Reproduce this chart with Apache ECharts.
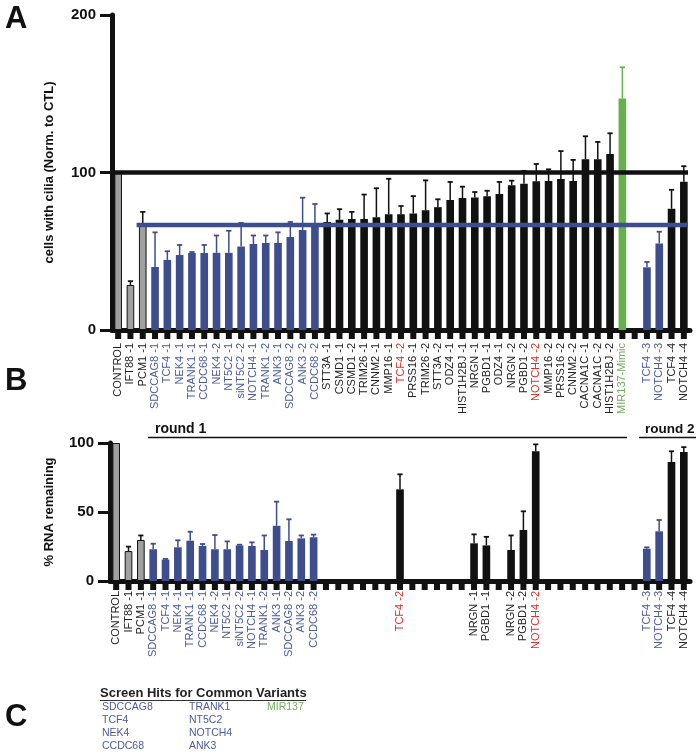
<!DOCTYPE html>
<html><head><meta charset="utf-8">
<script src="https://cdn.jsdelivr.net/npm/echarts@6/dist/echarts.min.js"></script>
<style>html,body{margin:0;padding:0;background:#fff}#c{width:699px;height:755px}</style>
</head><body><div id="c"></div>
<script>
// ---------- DATA ----------
const categories = ['CONTROL','IFT88 -1','PCM1 -1','SDCCAG8 -1','TCF4 -1','NEK4 -1','TRANK1 -1','CCDC68 -1','NEK4 -2','NT5C2 -1','siNT5C2 -2','NOTCH4 -1','TRANK1 -2','ANK3 -1','SDCCAG8 -2','ANK3 -2','CCDC68 -2','STT3A -1','CSMD1 -1','CSMD1 -2','TRIM26 -1','CNNM2 -1','MMP16 -1','TCF4 -2','PRSS16 -1','TRIM26 -2','STT3A -2','ODZ4 -1','HIST1H2BJ -1','NRGN -1','PGBD1 -1','ODZ4 -1','NRGN -2','PGBD1 -2','NOTCH4 -2','MMP16 -2','PRSS16 -2','CNNM2 -2','CACNA1C -1','CACNA1C -2','HIST1H2BJ -2','MIR137-Mimic','','TCF4 -3','NOTCH4 -3','TCF4 -4','NOTCH4 -4'];
// group: ctl = control, hit = screen hit, oth = other, red = other (highlighted label), mir = MIR137, none = empty
const groups = ['ctl','ctl','ctl','hit','hit','hit','hit','hit','hit','hit','hit','hit','hit','hit','hit','hit','hit','oth','oth','oth','oth','oth','oth','red','oth','oth','oth','oth','oth','oth','oth','oth','oth','oth','red','oth','oth','oth','oth','oth','oth','mir','none','hit','hit','oth','oth'];
const ciliaValues = [100,28.6,67,40,44.5,47.6,48.9,48.9,49,49,53,54.6,55.3,55.3,59,63.5,66,68.6,70,70.5,70.5,71.6,73.5,73.5,74,76,78,82.5,83.8,84.2,85,86.3,91.9,92.9,94.4,94.6,95.9,94.6,108.4,108.4,111.7,147,null,39.8,55,77,94.2];
const ciliaErrTop = [null,31,75,62,50,54,49.5,54,60,63,68,60,60,62,68.6,84,80,74,76.7,75,86,90,96,78.7,85,95,83,94,91,87.6,88.4,94,94.8,101,105.4,102,113.6,108,123,119.4,124.9,166.8,null,43.2,62.4,89,104];
const rnaValues = [100,21.7,29.7,23,15.5,24.4,29.2,25.4,23,23,25.8,25.4,22.5,40,29,30.9,31.7,null,null,null,null,null,null,66.4,null,null,null,null,null,27.3,25.8,null,22.5,37,94,null,null,null,null,null,null,null,null,23.4,36,86.2,93.5];
const rnaErrTop = [null,24.9,33,27,16,29.5,35.7,26.8,33.3,28.7,26.3,28,33,57.5,44.7,33,33.6,null,null,null,null,null,null,77.3,null,null,null,null,null,33.8,32,null,33,50.5,99,null,null,null,null,null,null,null,null,24.4,44.2,94,97];
const ciliaTicks = [0,100,200];
const rnaTicks = [0,50,100];
const controlLine = 100;
const hitMeanLine = 66.7;
const hitsCol1 = ['SDCCAG8','TCF4','NEK4','CCDC68'];
const hitsCol2 = ['TRANK1','NT5C2','NOTCH4','ANK3'];
const hitsCol3 = ['MIR137'];

// ---------- STYLE ----------
const FONT = '"Liberation Sans", Arial, Helvetica, sans-serif';
const barColor = {ctl:'#a0a0a0', hit:'#3d4d8d', oth:'#111111', red:'#111111', mir:'#66b04e', none:'#111'};
const errColor = {ctl:'#111111', hit:'#3d4d8d', oth:'#111111', red:'#111111', mir:'#66b04e', none:'#111'};
const labelColor = {ctl:'#222', hit:'#4b5a9c', oth:'#222', red:'#d6322c', mir:'#6fae5a', none:'#222'};

const rich = {};
Object.keys(labelColor).forEach(k => rich[k] = {color: labelColor[k], fontSize: 11, fontFamily: FONT});

function barData(vals){
  return vals.map((v,i) => v == null ? null : {
    value: v,
    itemStyle: {color: barColor[groups[i]], borderColor: groups[i]==='ctl' ? '#111' : barColor[groups[i]], borderWidth: groups[i]==='ctl' ? 1 : 0}
  });
}
function errData(vals, tops){
  const out = [];
  vals.forEach((v,i) => { if (v != null && tops[i] != null) out.push([i, v, tops[i]]); });
  return out;
}
function renderErr(params, api){
  const i = api.value(0), v = api.value(1), e = api.value(2);
  const p0 = api.coord([i, v]), p1 = api.coord([i, e]);
  const w = 2.6;
  const c = errColor[groups[i]];
  return {type:'group', children:[
    {type:'line', shape:{x1:p0[0], y1:p0[1], x2:p1[0], y2:p1[1]}, style:{stroke:c, lineWidth:1.5}},
    {type:'line', shape:{x1:p1[0]-w, y1:p1[1], x2:p1[0]+w, y2:p1[1]}, style:{stroke:c, lineWidth:1.8}}
  ]};
}
// comb ticks under the category axes, at each category centre
function renderComb(params, api){
  const p = api.coord([api.value(0), 0]);
  return {type:'rect', shape:{x:p[0]-3, y:p[1], width:6, height:9}, style:{fill:'#111'}};
}
const refLines = [[0, controlLine], [2, hitMeanLine]];
function renderRef(params, api){
  const startIdx = api.value(0), v = api.value(1);
  const cs = params.coordSys;
  const band = api.size([1,0])[0];
  const p = api.coord([startIdx, v]);
  const isBlue = params.dataIndex === 1;
  const x1 = isBlue ? p[0] - band/2 : cs.x;
  const x2 = cs.x + cs.width - 2;
  return {type:'line', shape:{x1:x1, y1:p[1], x2:x2, y2:p[1]},
    style:{stroke: isBlue ? '#3d4d8d' : '#111', lineWidth: 4.5}};
}

const xAxisBase = (labelFn, margin) => ({
  type:'category', data: categories,
  axisLine:{show:true, lineStyle:{color:'#111', width:5}},
  axisTick:{show:false},
  axisLabel:{interval:0, rotate:90, margin: margin, formatter: labelFn, rich: rich}
});
const yAxisBase = (max, interval, name, gap) => ({
  type:'value', min:0, max:max, interval:interval,
  name:name, nameLocation:'middle', nameGap:gap,
  nameTextStyle:{fontFamily:FONT, fontWeight:'bold', fontSize:13, color:'#111'},
  axisLine:{show:true, lineStyle:{color:'#111', width:5}},
  axisTick:{show:true, length:12, lineStyle:{color:'#111', width:3}},
  axisLabel:{fontFamily:FONT, fontWeight:'bold', fontSize:15, color:'#111', margin:16},
  splitLine:{show:false}
});

const combData = categories.map((c,i) => [i, 0]);

const chart = echarts.init(document.getElementById('c'), null, {renderer:'canvas'});
const option = {
  animation:false,
  backgroundColor:'#fff',
  grid:[
    {left:112, top:15, width:578, height:315},
    {left:110, top:443, width:580, height:138}
  ],
  xAxis:[
    Object.assign(xAxisBase((v,i) => v ? '{' + groups[i] + '|' + v + '}' : '', 13), {gridIndex:0}),
    Object.assign(xAxisBase((v,i) => (v && rnaValues[i] != null) ? '{' + groups[i] + '|' + v + '}' : '', 10), {gridIndex:1})
  ],
  yAxis:[
    Object.assign(yAxisBase(200, 100, 'cells with cilia (Norm. to CTL)', 56), {gridIndex:0}),
    Object.assign(yAxisBase(100, 50, '% RNA remaining', 54), {gridIndex:1})
  ],
  series:[
    {type:'bar', xAxisIndex:0, yAxisIndex:0, data: barData(ciliaValues), barWidth:'62%', z:2},
    {type:'custom', xAxisIndex:0, yAxisIndex:0, data: errData(ciliaValues, ciliaErrTop), renderItem: renderErr, z:3},
    {type:'custom', xAxisIndex:0, yAxisIndex:0, data: refLines, renderItem: renderRef, z:4},
    {type:'custom', xAxisIndex:0, yAxisIndex:0, data: combData, renderItem: renderComb, z:5, clip:false},
    {type:'bar', xAxisIndex:1, yAxisIndex:1, data: barData(rnaValues), barWidth:'62%', z:2},
    {type:'custom', xAxisIndex:1, yAxisIndex:1, data: errData(rnaValues, rnaErrTop), renderItem: renderErr, z:3},
    {type:'custom', xAxisIndex:1, yAxisIndex:1, data: combData, renderItem: renderComb, z:5, clip:false}
  ],
  graphic:[
    {type:'text', left:5, top:4, style:{text:'A', font:'bold 31px ' + FONT, fill:'#111'}},
    {type:'text', left:5, top:366, style:{text:'B', font:'bold 31px ' + FONT, fill:'#111'}},
    {type:'text', left:5, top:702, style:{text:'C', font:'bold 31px ' + FONT, fill:'#111'}},
    {type:'text', left:155, top:422, style:{text:'round 1', font:'bold 14px ' + FONT, fill:'#111'}},
    {type:'line', shape:{x1:148, y1:437.5, x2:627, y2:437.5}, style:{stroke:'#111', lineWidth:1.5}},
    {type:'text', left:645, top:422, style:{text:'round 2', font:'bold 13.5px ' + FONT, fill:'#111'}},
    {type:'line', shape:{x1:639, y1:437.5, x2:696, y2:437.5}, style:{stroke:'#111', lineWidth:1.5}},
    {type:'text', left:100, top:687, style:{text:'Screen Hits for Common Variants', font:'bold 13px ' + FONT, fill:'#222'}},
    {type:'line', shape:{x1:100, y1:700.5, x2:306, y2:700.5}, style:{stroke:'#333', lineWidth:1}},
    {type:'text', left:102, top:701, style:{text: hitsCol1.join('\n'), font:'10.5px ' + FONT, lineHeight:13, fill:'#4b5a9c'}},
    {type:'text', left:189, top:701, style:{text: hitsCol2.join('\n'), font:'10.5px ' + FONT, lineHeight:13, fill:'#4b5a9c'}},
    {type:'text', left:267, top:701, style:{text: hitsCol3.join('\n'), font:'10.5px ' + FONT, lineHeight:13, fill:'#6fae5a'}}
  ]
};
chart.setOption(option);
</script></body></html>
